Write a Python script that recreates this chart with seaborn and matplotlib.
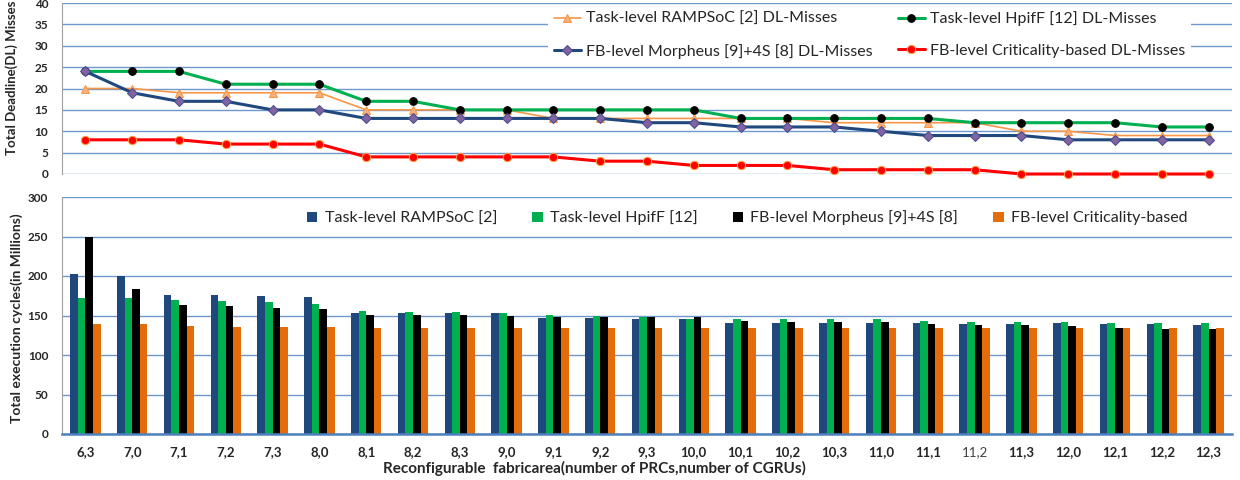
import numpy as np
import pandas as pd
import matplotlib.pyplot as plt
import seaborn as sns

# x categories: (number of PRCs, number of CGRUs)
areas = ['6,3', '7,0', '7,1', '7,2', '7,3', '8,0', '8,1', '8,2', '8,3', '9,0',
         '9,1', '9,2', '9,3', '10,0', '10,1', '10,2', '10,3', '11,0', '11,1',
         '11,2', '11,3', '12,0', '12,1', '12,2', '12,3']

# deadline misses (top panel)
ramp_dl = [20, 20, 19, 19, 19, 19, 15, 15, 15, 15, 13, 13, 13, 13, 13, 13, 12, 12, 12, 12, 10, 10, 9, 9, 9]
hpiff_dl = [24, 24, 24, 21, 21, 21, 17, 17, 15, 15, 15, 15, 15, 15, 13, 13, 13, 13, 13, 12, 12, 12, 12, 11, 11]
morph_dl = [24, 19, 17, 17, 15, 15, 13, 13, 13, 13, 13, 13, 12, 12, 11, 11, 11, 10, 9, 9, 9, 8, 8, 8, 8]
crit_dl = [8, 8, 8, 7, 7, 7, 4, 4, 4, 4, 4, 3, 3, 2, 2, 2, 1, 1, 1, 1, 0, 0, 0, 0, 0]

# execution cycles in millions (bottom panel)
ramp_cyc = [202, 200, 176, 176, 175, 174, 153, 153, 153, 153, 147, 147, 145, 145, 140, 141, 140, 140, 140, 139, 139, 140, 139, 139, 138]
hpiff_cyc = [172, 172, 170, 168, 167, 165, 156, 155, 154, 153, 151, 149, 148, 146, 145, 145, 145, 145, 143, 142, 142, 142, 141, 141, 140]
morph_cyc = [250, 184, 163, 162, 159, 158, 151, 151, 151, 149, 148, 148, 148, 148, 143, 142, 142, 142, 139, 138, 138, 137, 134, 133, 133]
crit_cyc = [139, 139, 137, 135, 135, 135, 134, 134, 134, 134, 134, 134, 134, 134, 134, 134, 134, 134, 134, 134, 134, 134, 134, 134, 134]

bar_methods = ['Task-level RAMPSoC [2]', 'Task-level HpifF [12]',
               'FB-level Morpheus [9]+4S [8]', 'FB-level Criticality-based']
bar_colors = ['#1f497d', '#00b050', '#000000', '#e46c0a']

sns.set_style('white')
plt.rcParams['font.family'] = ['Lato', 'DejaVu Sans']

W, H = 1240, 480
fig = plt.figure(figsize=(W / 100, H / 100), dpi=100)
ax1 = fig.add_axes([62 / W, 1 - 174 / H, 1170 / W, 171 / H])
ax2 = fig.add_axes([62 / W, 1 - 434 / H, 1170 / W, 237 / H])

grid_c = '#6f98cc'
pos = np.arange(len(areas))

# ── top panel: deadline misses
lines = [
    ('Task-level RAMPSoC [2] DL-Misses', ramp_dl,
     dict(color='#f79646', lw=1.2, marker='^', ms=5.5, mfc='#f9b07a', mec='#f79646')),
    ('Task-level HpifF [12] DL-Misses', hpiff_dl,
     dict(color='#00b050', lw=2.2, marker='o', ms=5.5, mfc='black', mec='black')),
    ('FB-level Morpheus [9]+4S [8] DL-Misses', morph_dl,
     dict(color='#1f497d', lw=2.2, marker='D', ms=5, mfc='#8064a2', mec='#4b4b8f')),
    ('FB-level Criticality-based DL-Misses', crit_dl,
     dict(color='#ff0000', lw=2.2, marker='o', ms=6, mfc='#ff0000', mec='#ffa040')),
]
for name, vals, kw in lines:
    sns.lineplot(x=pos, y=vals, ax=ax1, label=name, clip_on=False, **kw)

ax1.set_xlim(-0.5, len(areas) - 0.5)
ax1.set_ylim(0, 40)
ax1.set_yticks(range(0, 41, 5))
ax1.set_xticks([])
ax1.grid(axis='y', color=grid_c, lw=1)
ax1.set_axisbelow(True)
for s in ['top', 'right', 'bottom']:
    ax1.spines[s].set_visible(False)
ax1.spines['left'].set_color('#a0a0a0')
ax1.tick_params(axis='y', length=0, labelsize=8.5, pad=10)
for t in ax1.get_yticklabels():
    t.set_fontweight('bold')
ax1.set_ylabel('')

h, l = ax1.get_legend_handles_labels()
order = [0, 2, 1, 3]
ax1.legend([h[i] for i in order], [l[i] for i in order], ncol=2,
           loc='center left', bbox_to_anchor=((548 - 62) / 1170, (174 - 35) / 171),
           borderaxespad=0, frameon=True, facecolor='white', edgecolor='none',
           framealpha=1, fancybox=False, fontsize=11.5, handlelength=1.7,
           labelspacing=1.1, columnspacing=1.6, handletextpad=0.3, borderpad=0.35)

# ── bottom panel: execution cycles
cyc = pd.DataFrame({
    'area': areas * 4,
    'cycles': ramp_cyc + hpiff_cyc + morph_cyc + crit_cyc,
    'method': np.repeat(bar_methods, len(areas)),
})
sns.barplot(data=cyc, x='area', y='cycles', hue='method', order=areas,
            hue_order=bar_methods, palette=bar_colors, saturation=1,
            width=0.65, linewidth=0, ax=ax2)

ax2.set_xlim(-0.5, len(areas) - 0.5)
ax2.set_ylim(0, 300)
ax2.set_yticks(range(0, 301, 50))
ax2.grid(axis='y', color=grid_c, lw=1)
ax2.set_axisbelow(True)
for s in ['top', 'right']:
    ax2.spines[s].set_visible(False)
ax2.spines['left'].set_color('#a0a0a0')
ax2.spines['bottom'].set_color('#4f81bd')
ax2.spines['bottom'].set_linewidth(1.8)
ax2.tick_params(axis='y', length=0, labelsize=8.5, pad=10)
ax2.tick_params(axis='x', length=0, labelsize=9.5, pad=9)
for t in ax2.get_yticklabels() + ax2.get_xticklabels():
    t.set_fontweight('bold')
# 11,2 label is plain in the original
for t in ax2.get_xticklabels():
    if t.get_text() == '11,2':
        t.set_fontweight('normal')
        t.set_color('#404040')
ax2.set_xlabel('')
ax2.set_ylabel('')
ax2.legend(ncol=4, loc='center left', bbox_to_anchor=((307 - 62) / 1170, (434 - 218) / 237),
           borderaxespad=0, borderpad=0, frameon=False, fontsize=11.5,
           handlelength=0.65, handleheight=0.65, columnspacing=2.2, handletextpad=0.45)

fig.text(12 / W, 1 - 78 / H, 'Total Deadline(DL) Misses', rotation=90,
         ha='center', va='center', fontsize=9.5, fontweight='bold')
fig.text(17 / W, 1 - 318 / H, 'Total execution cycles(in Millions)', rotation=90,
         ha='center', va='center', fontsize=10, fontweight='bold')
fig.text(594 / W, 1 - 468 / H, 'Reconfigurable  fabricarea(number of PRCs,number of CGRUs)',
         ha='center', va='center', fontsize=11, fontweight='bold')

fig.savefig('out.png', dpi=100)
